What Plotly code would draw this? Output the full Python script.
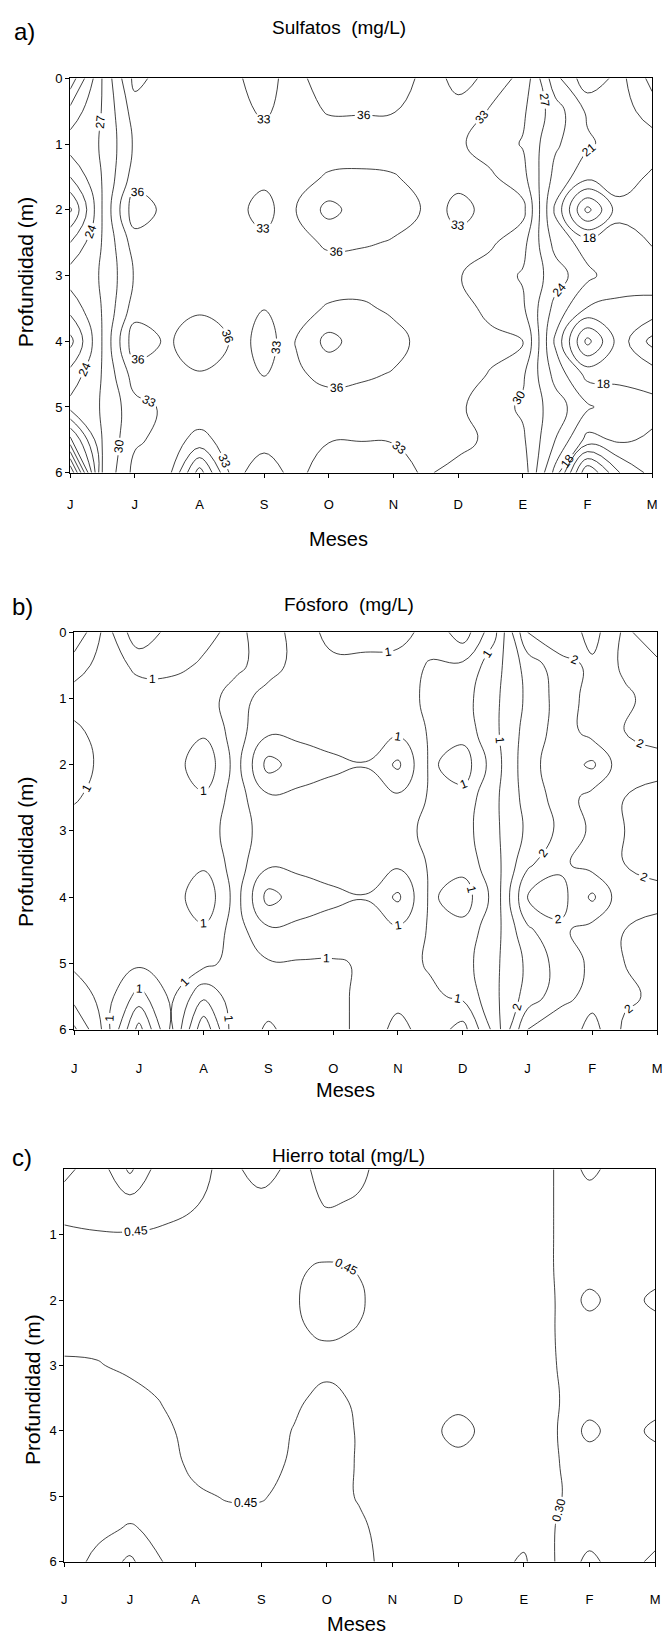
import plotly.graph_objects as go

W, H = 668, 1646

# ---------------- data ----------------
MONTHS_A = ["J", "J", "A", "S", "O", "N", "D", "E", "F", "M"]
MONTHS_B = ["J", "J", "A", "S", "O", "N", "D", "J", "F", "M"]
MONTHS_C = ["J", "J", "A", "S", "O", "N", "D", "E", "F", "M"]
MONTH_POS = [0, 1, 2, 3, 4, 5, 6, 7, 8, 9]

# grid columns (month position, half-month steps) and rows (depth, m)
X = [0, 0.5, 1, 1.5, 2, 2.5, 3, 3.5, 4, 4.5, 5, 5.5, 6, 6.5, 7, 7.5, 8, 8.5, 9]
DEPTH = [0, 0.5, 1, 1.5, 2, 2.5, 3, 3.5, 4, 4.5, 5, 5.5, 6]

# a) Sulfatos (mg/L)
SULFATOS = [
    [16, 27.2, 37, 34.5, 34.5, 34, 31, 35.5, 37, 37, 37, 35.5, 31.5, 34, 32.5, 22, 16, 19, 14],
    [22, 27.2, 34.5, 34.5, 34.5, 34.5, 32.4, 35, 36.2, 36.2, 36.1, 35, 34.5, 32.8, 30.5, 25.5, 20.5, 19.5, 16.5],
    [25.5, 27.2, 33.5, 34.5, 34.5, 34.5, 34.5, 34.5, 34.5, 34.5, 34.5, 34.5, 33.5, 31.5, 29.8, 24.5, 21.5, 19.5, 19.5],
    [21, 27.2, 34.5, 34.5, 34.5, 34.5, 34, 35, 36.3, 36.5, 36.2, 35, 34.5, 33.5, 31, 23, 19, 19.5, 17.5],
    [14.5, 27.2, 38, 35, 34.5, 34.5, 31.5, 36.2, 40, 37.5, 37, 35.8, 31.5, 34.5, 34, 20.5, 8, 17, 16],
    [21, 27.2, 34.5, 34.5, 34.5, 34.5, 34, 35, 36.5, 36.3, 35.8, 34.5, 34.5, 33.5, 31, 23, 19.5, 19.5, 17.8],
    [25.5, 27.2, 33.3, 34.5, 34.5, 34.5, 34.5, 34.5, 34.5, 34.5, 34.5, 34.5, 33.2, 31.5, 29.7, 25.5, 21.8, 19, 19.5],
    [22, 27.2, 34.5, 34.5, 35.5, 34.5, 33.1, 35, 36.3, 36.5, 35.5, 34.5, 34.5, 32, 30.5, 23, 17.8, 17.5, 17],
    [17, 27.2, 38, 35.5, 38, 35.8, 31, 36.2, 40, 37.5, 37, 35, 34.5, 34, 33.5, 20.5, 8, 16.5, 11],
    [22, 27.2, 34.5, 34.5, 35.8, 34.5, 32.9, 35.5, 37, 36.5, 35.8, 34.5, 34.5, 32.8, 30.5, 23, 17, 17.5, 16.5],
    [25, 27.2, 32, 33.5, 34.5, 34.5, 34.5, 34.5, 34.5, 34.5, 34.5, 34.5, 33.5, 31.5, 29.5, 25.5, 21.5, 19, 19],
    [14, 27.2, 32.5, 34, 32.3, 34, 34, 34, 33.2, 33.1, 33.2, 34, 34.5, 32, 30.5, 24, 17, 18.5, 17.5],
    [0, 27.2, 34, 34.5, 22.5, 34, 31.5, 34, 31, 31, 31.5, 33.5, 31.5, 33, 32, 20, 3, 12, 16],
]

# b) Fósforo (mg/L)
FOSFORO = [
    [1.225, 0.65, 1.2, 0.9, 0.8, 0.7, 0.85, 0.65, 0.825, 0.825, 0.8, 0.7, 0.35, 0.95, 2.0, 2.2, 1.9, 2.3, 2.1],
    [0.85, 0.65, 0.8, 0.8, 0.725, 0.7, 0.85, 0.65, 0.7, 0.7, 0.7, 0.76, 0.8, 1.15, 1.6, 1.9, 2.05, 2.3, 2.3],
    [0.65, 0.65, 0.65, 0.65, 0.65, 0.85, 0.65, 0.65, 0.65, 0.65, 0.65, 0.8, 0.9, 1.2, 1.55, 1.85, 2.1, 2.2, 2.35],
    [0.8, 0.65, 0.65, 0.65, 0.55, 0.85, 0.55, 0.55, 0.6, 0.6, 0.55, 0.78, 0.85, 1.2, 1.6, 1.85, 2.1, 2.25, 2.4],
    [0.9, 0.65, 0.65, 0.65, 0.3, 0.85, 0.15, 0.4, 0.45, 0.49, 0.2, 0.8, 0.6, 1.15, 1.65, 1.9, 1.7, 2.2, 2.1],
    [0.775, 0.65, 0.65, 0.65, 0.55, 0.85, 0.55, 0.55, 0.6, 0.6, 0.55, 0.78, 0.85, 1.2, 1.6, 1.85, 2.1, 2.25, 2.4],
    [0.65, 0.65, 0.65, 0.65, 0.65, 0.85, 0.65, 0.65, 0.65, 0.65, 0.65, 0.82, 0.9, 1.2, 1.55, 1.8, 2.05, 2.25, 2.35],
    [0.65, 0.65, 0.65, 0.65, 0.55, 0.85, 0.55, 0.55, 0.6, 0.6, 0.55, 0.78, 0.85, 1.15, 1.7, 1.95, 2.1, 2.25, 2.4],
    [0.7, 0.65, 0.65, 0.65, 0.3, 0.85, 0.15, 0.4, 0.45, 0.49, 0.2, 0.8, 0.6, 1.1, 2.0, 2.1, 1.7, 2.2, 2.1],
    [0.65, 0.65, 0.65, 0.65, 0.55, 0.85, 0.55, 0.55, 0.6, 0.6, 0.55, 0.78, 0.85, 1.15, 1.7, 1.95, 2.1, 2.25, 2.4],
    [0.7, 0.65, 0.7, 0.7, 0.675, 0.85, 0.775, 0.775, 0.775, 0.725, 0.65, 0.78, 0.9, 1.2, 1.55, 1.85, 2.05, 2.25, 2.35],
    [0.9, 0.65, 1.1, 0.7, 1.2, 0.85, 0.85, 0.85, 0.8, 0.7, 0.6, 0.7, 0.8, 1.2, 1.6, 1.9, 2.1, 2.2, 2.3],
    [1.3, 0.65, 1.6, 0.7, 1.7, 0.8, 1.05, 0.85, 0.8, 0.7, 0.4, 0.65, 0.4, 1.1, 2.0, 2.2, 1.9, 2.3, 2.3],
]

# c) Hierro total (mg/L)
HIERRO = [
    [0.65, 0.50, 0.78, 0.50, 0.50, 0.40, 0.52, 0.40, 0.50, 0.47, 0.40, 0.40, 0.40, 0.40, 0.40, 0.29, 0.10, 0.25, 0.25],
    [0.52, 0.52, 0.55, 0.50, 0.46, 0.40, 0.40, 0.40, 0.46, 0.44, 0.40, 0.40, 0.40, 0.40, 0.40, 0.29, 0.25, 0.25, 0.25],
    [0.42, 0.44, 0.44, 0.43, 0.40, 0.40, 0.40, 0.40, 0.40, 0.40, 0.40, 0.40, 0.40, 0.40, 0.40, 0.29, 0.25, 0.25, 0.25],
    [0.40, 0.40, 0.40, 0.40, 0.40, 0.40, 0.40, 0.44, 0.46, 0.445, 0.40, 0.40, 0.40, 0.40, 0.40, 0.29, 0.25, 0.25, 0.25],
    [0.40, 0.40, 0.40, 0.40, 0.40, 0.40, 0.40, 0.44, 0.50, 0.46, 0.40, 0.40, 0.40, 0.40, 0.40, 0.295, 0.10, 0.25, 0.10],
    [0.40, 0.40, 0.40, 0.40, 0.40, 0.40, 0.40, 0.44, 0.46, 0.445, 0.40, 0.40, 0.40, 0.40, 0.40, 0.295, 0.25, 0.25, 0.25],
    [0.47, 0.46, 0.42, 0.40, 0.40, 0.40, 0.40, 0.40, 0.42, 0.40, 0.40, 0.40, 0.40, 0.40, 0.40, 0.30, 0.25, 0.25, 0.25],
    [0.50, 0.50, 0.50, 0.44, 0.40, 0.40, 0.40, 0.43, 0.48, 0.43, 0.40, 0.40, 0.40, 0.40, 0.40, 0.305, 0.25, 0.25, 0.25],
    [0.50, 0.50, 0.50, 0.48, 0.40, 0.40, 0.40, 0.455, 0.50, 0.44, 0.40, 0.40, 0.50, 0.40, 0.40, 0.305, 0.10, 0.25, 0.10],
    [0.50, 0.50, 0.50, 0.50, 0.42, 0.40, 0.40, 0.47, 0.50, 0.44, 0.40, 0.40, 0.40, 0.40, 0.40, 0.305, 0.25, 0.25, 0.25],
    [0.50, 0.50, 0.50, 0.50, 0.47, 0.44, 0.44, 0.49, 0.50, 0.44, 0.40, 0.40, 0.40, 0.40, 0.40, 0.31, 0.25, 0.25, 0.25],
    [0.50, 0.55, 0.62, 0.55, 0.50, 0.50, 0.50, 0.50, 0.50, 0.47, 0.40, 0.40, 0.40, 0.40, 0.40, 0.295, 0.25, 0.25, 0.25],
    [0.50, 0.65, 0.78, 0.60, 0.50, 0.50, 0.50, 0.50, 0.50, 0.49, 0.40, 0.40, 0.40, 0.40, 0.47, 0.29, 0.10, 0.25, 0.10],
]

# ---------------- helpers ----------------
FONT = "Liberation Sans"


def px(xp):
    return xp / W


def py(yp):
    return 1 - yp / H


def contour(z, xa, ya, start, end, size, labels, fmt):
    return go.Contour(
        x=X, y=DEPTH, z=z, xaxis=xa, yaxis=ya,
        autocontour=False,
        contours=dict(start=start, end=end, size=size, coloring="none",
                      showlabels=labels, labelformat=fmt,
                      labelfont=dict(family=FONT, size=12, color="black")),
        line=dict(color="#111111", width=0.8, smoothing=1.3),
        showscale=False, hoverinfo="skip",
    )


fig = go.Figure()
# panel a
fig.add_trace(contour(SULFATOS, "x", "y", 18, 36, 3, True, ".0f"))
fig.add_trace(contour(SULFATOS, "x", "y", 0, 15, 3, False, ".0f"))
fig.add_trace(contour(SULFATOS, "x", "y", 39, 42, 3, False, ".0f"))
# panel b
fig.add_trace(contour(FOSFORO, "x2", "y2", 0.25, 2.25, 0.25, True, ".0f"))
# panel c
fig.add_trace(contour(HIERRO, "x3", "y3", 0.30, 0.45, 0.15, True, ".2f"))
fig.add_trace(contour(HIERRO, "x3", "y3", 0.15, 0.15, 0.15, False, ".2f"))
fig.add_trace(contour(HIERRO, "x3", "y3", 0.60, 0.75, 0.15, False, ".2f"))

PANELS = [
    # (xdomain px, ydomain px (top,bottom), month labels, ytickvals, standoff)
    ((68, 657), (72, 470), MONTHS_A, [0, 1, 2, 3, 4, 5, 6], 16),
    ((72, 662), (631, 1032), MONTHS_B, [0, 1, 2, 3, 4, 5, 6], 23),
    ((62, 660), (1173, 1569), MONTHS_C, [1, 2, 3, 4, 5, 6], 22),
]

layout = dict(
    width=W, height=H, margin=dict(l=0, r=0, t=0, b=0),
    paper_bgcolor="white", plot_bgcolor="white", showlegend=False,
    font=dict(family=FONT, color="black"),
)
for i, (xd, yd, months, ytv, standoff) in enumerate(PANELS):
    sfx = "" if i == 0 else str(i + 1)
    layout["xaxis" + sfx] = dict(
        domain=[px(xd[0]), px(xd[1])], range=[0, 9], anchor="y" + sfx,
        tickvals=MONTH_POS, ticktext=months, ticks="outside", ticklen=4,
        tickwidth=1, tickcolor="black",
        showline=True, mirror=True, linecolor="black", linewidth=1,
        showgrid=False, zeroline=False, ticklabelstandoff=standoff,
        tickfont=dict(family=FONT, size=13, color="black"),
    )
    layout["yaxis" + sfx] = dict(
        domain=[py(yd[1]), py(yd[0])], range=[6, 0], anchor="x" + sfx,
        tickvals=ytv, ticks="outside", ticklen=4, tickwidth=1, tickcolor="black",
        showline=True, mirror=True, linecolor="black", linewidth=1,
        showgrid=False, zeroline=False,
        tickfont=dict(family=FONT, size=13, color="black"),
    )

ann = []


def text(t, xp, yp, size, angle=0):
    ann.append(dict(text=t, x=px(xp), y=py(yp), xref="paper", yref="paper",
                    showarrow=False, xanchor="center", yanchor="middle",
                    textangle=angle, font=dict(family=FONT, size=size, color="black")))


text("a)", 22, 25, 24)
text("Sulfatos  (mg/L)", 340, 21, 19)
text("Profundidad (m)", 23, 267, 21, -90)
text("Meses", 340, 537, 20)

text("b)", 20, 605, 24)
text("Fósforo  (mg/L)", 350, 603, 19)
text("Profundidad (m)", 23, 852, 21, -90)
text("Meses", 347, 1093, 20)

text("c)", 19, 1161, 24)
text("Hierro total (mg/L)", 350, 1159, 19)
text("Profundidad (m)", 30, 1395, 21, -90)
text("Meses", 358, 1632, 20)

layout["annotations"] = ann
fig.update_layout(**layout)
fig.write_html(
    "out.html",
    config={"displayModeBar": False},
    post_script="document.body.style.margin='0px';document.body.style.padding='0px';"
                "document.body.style.overflow='hidden';",
)
